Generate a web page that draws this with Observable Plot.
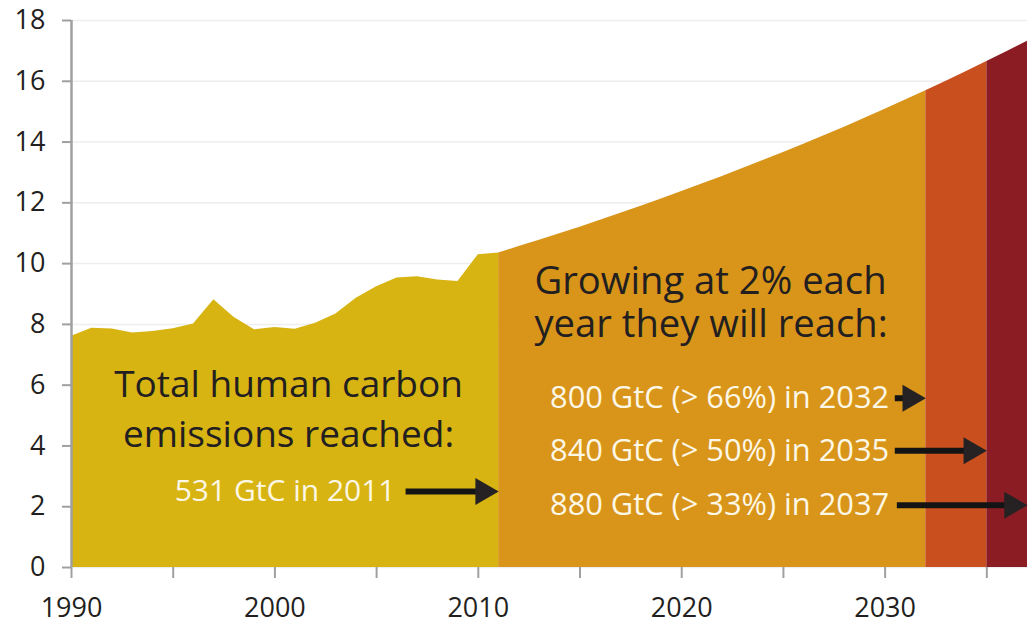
<!DOCTYPE html>
<html>
<head>
<meta charset="utf-8">
<script src="https://cdn.jsdelivr.net/npm/d3@7"></script>
<script src="https://cdn.jsdelivr.net/npm/@observablehq/plot@0.6"></script>
<style>
  html, body { margin: 0; padding: 0; background: #fff; }
  #chart svg { display: block; }
</style>
</head>
<body>
<div id="chart"></div>
<script>
// Historical emissions (GtC / yr)
const histYears  = [1990,1991,1992,1993,1994,1995,1996,1997,1998,1999,2000,2001,2002,2003,2004,2005,2006,2007,2008,2009,2010,2011];
const histValues = [7.61,7.87,7.85,7.72,7.77,7.86,8.01,8.81,8.23,7.82,7.90,7.84,8.04,8.34,8.86,9.24,9.53,9.57,9.46,9.41,10.29,10.35];

// Projection at 2% per year
const projYears  = [2012,2013,2014,2015,2016,2017,2018,2019,2020,2021,2022,2023,2024,2025,2026,2027,2028,2029,2030,2031,2032,2033,2034,2035,2036,2037];
const projValues = [10.56,10.77,10.98,11.20,11.43,11.66,11.89,12.13,12.37,12.62,12.87,13.13,13.39,13.66,13.93,14.21,14.49,14.78,15.08,15.38,15.69,16.00,16.32,16.65,16.98,17.32];

// Phase boundaries (years)
const phaseBreaks = [1990, 2011, 2032, 2035, 2037];
const phaseNames  = ["history", "to800", "to840", "to880"];
const phaseColors = ["#d7b412", "#d8951a", "#ca4f1f", "#8c1c23"];

const yTicks = [0, 2, 4, 6, 8, 10, 12, 14, 16, 18];
const xMinorTicks = [1995, 2005, 2015, 2025, 2035];
const xLabelTicks = [1990, 2000, 2010, 2020, 2030];

const milestoneLabels = ["800 GtC (> 66%) in 2032", "840 GtC (> 50%) in 2035", "880 GtC (> 33%) in 2037"];
const milestoneYears  = [2032, 2035, 2037];

const allYears = histYears.concat(projYears);
const allValues = histValues.concat(projValues);

const rows = [];
phaseNames.forEach((p, i) => {
  allYears.forEach((yr, j) => {
    if (yr >= phaseBreaks[i] && yr <= phaseBreaks[i + 1]) rows.push({year: yr, value: allValues[j], phase: p});
  });
});

const darkText = "#231f20";
const lightText = "#fdf7e6";
const arrowShaft = "#141414";
const arrowHead = "#262224";

// arrows (data coords: y level, start year, tip year)
const arrows = [
  {y: 2.50, x1: 2006.45, x2: 2011},
  {y: 5.57, x1: 2030.5, x2: milestoneYears[0]},
  {y: 3.84, x1: 2030.5, x2: milestoneYears[1]},
  {y: 2.05, x1: 2030.6, x2: milestoneYears[2]}
];
const milestoneRows = milestoneLabels.map((t, i) => ({text: t, y: arrows[i + 1].y}));

const chart = Plot.plot({
  width: 1034,
  height: 625,
  marginTop: 20,
  marginLeft: 71,
  marginRight: 7,
  marginBottom: 58,
  style: {fontFamily: "'Open Sans', sans-serif", background: "#fff"},
  x: {domain: [1990, 2037]},
  y: {domain: [0, 18]},
  color: {domain: phaseNames, range: phaseColors},
  marks: [
    Plot.gridY(yTicks, {stroke: "#eeeeee", strokeOpacity: 1, strokeWidth: 1.5}),
    Plot.areaY(rows, {x: "year", y1: 0, y2: "value", z: "phase", fill: "phase"}),
    Plot.ruleX([1990], {y1: 0, y2: 18, stroke: "#a0a0a0", strokeWidth: 2.5}),
    Plot.axisY({ticks: yTicks, tickSize: 9, tickPadding: 17, fontSize: 27, stroke: "#a0a0a0", strokeWidth: 2, fill: darkText, tickFormat: d => d}),
    Plot.axisX({ticks: xMinorTicks, tickSize: 11, text: null, stroke: "#a0a0a0", strokeWidth: 2}),
    Plot.axisX({ticks: xLabelTicks, tickSize: 11, tickPadding: 19, fontSize: 27, stroke: "#a0a0a0", strokeWidth: 2, fill: darkText, tickFormat: d => String(d)}),
    // left annotation
    Plot.text(["Total human carbon"], {x: 2000.67, y: 6.0, text: d => d, fontSize: 37, fill: darkText, textAnchor: "middle"}),
    Plot.text(["emissions reached:"], {x: 2000.67, y: 4.36, text: d => d, fontSize: 37, fill: darkText, textAnchor: "middle"}),
    Plot.text(["531 GtC in 2011"], {x: 2005.93, y: 2.50, text: d => d, fontSize: 30, fill: lightText, textAnchor: "end"}),
    // right annotation
    Plot.text(["Growing at 2% each"], {x: 2012.76, y: 9.41, text: d => d, fontSize: 38.2, fill: darkText, textAnchor: "start"}),
    Plot.text(["year they will reach:"], {x: 2012.76, y: 7.99, text: d => d, fontSize: 38.2, fill: darkText, textAnchor: "start"}),
    Plot.text(milestoneRows, {x: 2030.2, y: "y", text: "text", fontSize: 30.8, fill: lightText, textAnchor: "end"}),
    // arrows
    Plot.ruleY(arrows, {y: "y", x1: "x1", x2: "x2", insetRight: 14, stroke: arrowShaft, strokeWidth: 6}),
    Plot.dot(arrows, {x: "x2", y: "y", symbol: "triangle", rotate: 90, r: 10, dx: -15.5, fill: arrowHead, stroke: "none"})
  ]
});

document.getElementById("chart").appendChild(chart);
</script>
</body>
</html>
